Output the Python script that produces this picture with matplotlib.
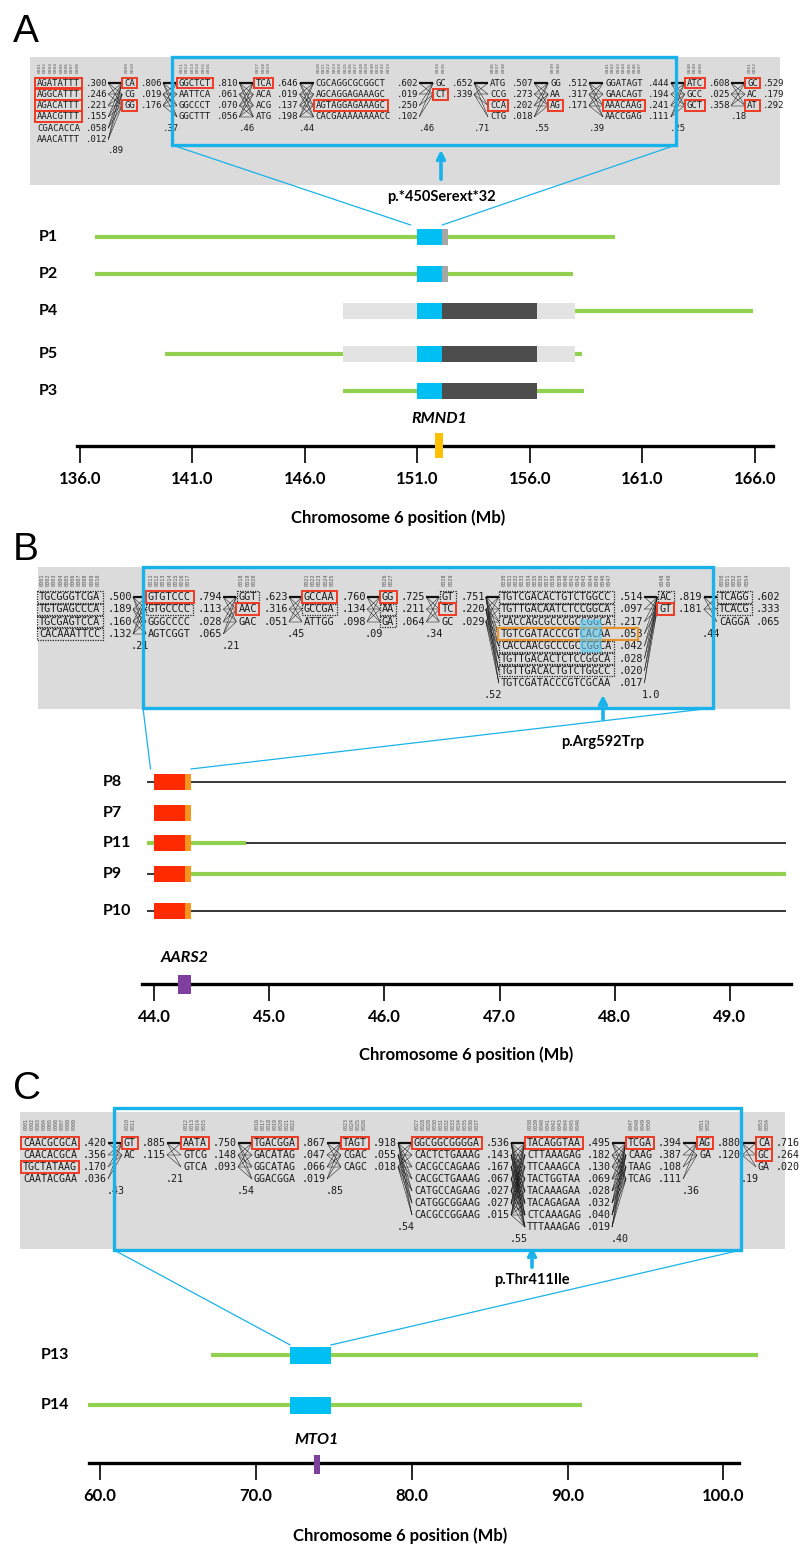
import matplotlib
matplotlib.use("Agg")
import matplotlib.pyplot as plt
from matplotlib.patches import Rectangle, ConnectionPatch

plt.rcParams["font.family"] = ["Lato", "DejaVu Sans"]

W, H = 800, 1559
CYAN = "#19B2EA"
GREEN = "#92D050"
RED_BOX = "#EE3A24"
MONO = "DejaVu Sans Mono"

# ---------------- panel A data ----------------
a_haps = [
    ["AGATATTT", "AGGCATTT", "AGACATTT", "AAACGTTT", "CGACACCA", "AAACATTT"],
    ["CA", "CG", "GG"],
    ["GGCTCT", "AATTCA", "GGCCCT", "GGCTTT"],
    ["TCA", "ACA", "ACG", "ATG"],
    ["CGCAGGCGCGGCT", "AGCAGGAGAAAGC", "AGTAGGAGAAAGC", "CACGAAAAAAAACC"],
    ["GC", "CT"],
    ["ATG", "CCG", "CCA", "CTG"],
    ["GG", "AA", "AG"],
    ["GGATAGT", "GAACAGT", "AAACAAG", "AACCGAG"],
    ["ATC", "GCC", "GCT"],
    ["GC", "AC", "AT"],
]
a_freqs = [
    [0.300, 0.246, 0.221, 0.155, 0.058, 0.012],
    [0.806, 0.019, 0.176],
    [0.810, 0.061, 0.070, 0.056],
    [0.646, 0.019, 0.137, 0.198],
    [0.602, 0.019, 0.250, 0.102],
    [0.652, 0.339],
    [0.507, 0.273, 0.202, 0.018],
    [0.512, 0.317, 0.171],
    [0.444, 0.194, 0.241, 0.111],
    [0.608, 0.025, 0.358],
    [0.529, 0.179, 0.292],
]
a_red = [[0, 1, 2, 3], [0, 2], [0], [0], [2], [1], [2], [2], [2], [0, 2], [0, 2]]
a_cross = [0.89, 0.37, 0.46, 0.44, 0.46, 0.71, 0.55, 0.39, 0.25, 0.18]

a_patients = ["P1", "P2", "P4", "P5", "P3"]
a_green = [[(136.67, 159.8)], [(136.67, 157.9)], [(158.0, 165.9)],
           [(139.8, 158.3)], [(147.7, 158.4)]]
a_shade = [None, None, (147.7, 158.0), (147.7, 158.0), None]
a_mut = (151.0, 152.1)
a_ext = [(152.1, 152.35), (152.1, 152.35), (152.1, 156.3), (152.1, 156.3), (152.1, 156.3)]
a_ext_col = ["#A6A6A6", "#A6A6A6", "#4D4D4D", "#4D4D4D", "#4D4D4D"]
a_ticks = [136.0, 141.0, 146.0, 151.0, 156.0, 161.0, 166.0]
a_gene = ("RMND1", 151.8, 152.15)

# ---------------- panel B data ----------------
b_haps = [
    ["TGCGGGTCGA", "TGTGAGCCCA", "TGCGAGTCCA", "CACAAATTCC"],
    ["GTGTCCC", "GTGCCCC", "GGGCCCC", "AGTCGGT"],
    ["GGT", "AAC", "GAC"],
    ["GCCAA", "GCCGA", "ATTGG"],
    ["GG", "AA", "GA"],
    ["GT", "TC", "GC"],
    ["TGTCGACACTGTCTGGCC", "TGTTGACAATCTCCGGCA", "CACCAGCGCCCGCCGGCA",
     "TGTCGATACCCGTCACAA", "CACCAACGCCCGCCGGCA", "TGTTGACACTCTCCGGCA",
     "TGTTGACACTGTCTGGCC", "TGTCGATACCCGTCGCAA"],
    ["AC", "GT"],
    ["TCAGG", "TCACG", "CAGGA"],
]
b_freqs = [
    [0.500, 0.189, 0.160, 0.132],
    [0.794, 0.113, 0.028, 0.065],
    [0.623, 0.316, 0.051],
    [0.760, 0.134, 0.098],
    [0.725, 0.211, 0.064],
    [0.751, 0.220, 0.029],
    [0.514, 0.097, 0.217, 0.058, 0.042, 0.028, 0.020, 0.017],
    [0.819, 0.181],
    [0.602, 0.333, 0.065],
]
b_red = [[], [0], [1], [0], [0], [1], [], [1], []]
b_dotted = [[0, 1, 2, 3], [0, 1], [0], [1], [1, 2], [0], [0, 1, 2, 4, 5, 6], [0], [0, 1]]
b_cross = [0.21, 0.21, 0.45, 0.09, 0.34, 0.52, 1.0, 0.44]

b_patients = ["P8", "P7", "P11", "P9", "P10"]
b_black = [(43.94, 49.49), None, (43.94, 49.49), (43.94, 44.0), (43.94, 49.49)]
b_green = [None, None, (43.94, 44.80), (44.32, 49.49), None]
b_mut = (44.0, 44.27)
b_ext = (44.27, 44.32)
b_ticks = [44.0, 45.0, 46.0, 47.0, 48.0, 49.0]
b_gene = ("AARS2", 44.21, 44.32)

# ---------------- panel C data ----------------
c_haps = [
    ["CAACGCGCA", "CAACACGCA", "TGCTATAAG", "CAATACGAA"],
    ["GT", "AC"],
    ["AATA", "GTCG", "GTCA"],
    ["TGACGGA", "GACATAG", "GGCATAG", "GGACGGA"],
    ["TAGT", "CGAC", "CAGC"],
    ["GGCGGCGGGGA", "CACTCTGAAAG", "CACGCCAGAAG", "CACGCTGAAAG",
     "CATGCCAGAAG", "CATGGCGGAAG", "CACGCCGGAAG"],
    ["TACAGGTAA", "CTTAAAGAG", "TTCAAAGCA", "TACTGGTAA",
     "TACAAAGAA", "TACAGAGAA", "CTCAAAGAG", "TTTAAAGAG"],
    ["TCGA", "CAAG", "TAAG", "TCAG"],
    ["AG", "GA"],
    ["CA", "GC", "GA"],
]
c_freqs = [
    [0.420, 0.356, 0.170, 0.036],
    [0.885, 0.115],
    [0.750, 0.148, 0.093],
    [0.867, 0.047, 0.066, 0.019],
    [0.918, 0.055, 0.018],
    [0.536, 0.143, 0.167, 0.067, 0.027, 0.027, 0.015],
    [0.495, 0.182, 0.130, 0.069, 0.028, 0.032, 0.040, 0.019],
    [0.394, 0.387, 0.108, 0.111],
    [0.880, 0.120],
    [0.716, 0.264, 0.020],
]
c_red = [[0, 2], [0], [0], [0], [0], [0], [0], [0], [0], [0, 1]]
c_cross = [0.43, 0.21, 0.54, 0.85, 0.54, 0.55, 0.40, 0.36, 0.19]

c_patients = ["P13", "P14"]
c_green = [(67.1, 102.2), (59.2, 90.9)]
c_mut = (72.2, 74.8)
c_ticks = [60.0, 70.0, 80.0, 90.0, 100.0]
c_gene = ("MTO1", 73.7, 74.1)


def fmt_freq(v):
    return f"{v:.3f}"[1:]


def fmt_cross(v):
    return "1.0" if v >= 1 else f"{v:.2f}"[1:]


def draw_haplo(ov, haps, freqs, red, cross, x0, y0, dy, cw, head_y, dotted=None, gap=17):
    fs = cw / 0.602 * 72 / 100
    starts, ends = [], []
    x = x0
    k = 1
    for i, (hs, fq) in enumerate(zip(haps, freqs)):
        n = max(len(h) for h in hs)
        starts.append(x)
        fx = x + (n + 1) * cw
        for c in range(n):
            ov.text(x + (c + 0.5) * cw, head_y, f"{k:04d}", rotation=90, fontsize=fs * 0.5,
                    family=MONO, ha="center", va="center", color="#555555")
            k += 1
        for r, (h, f) in enumerate(zip(hs, fq)):
            y = y0 + r * dy
            ov.text(x, y, h, family=MONO, fontsize=fs, ha="left", va="center", color="#1a1a1a")
            ov.text(fx, y, fmt_freq(f), family=MONO, fontsize=fs, ha="left", va="center",
                    color="#1a1a1a")
            if r in red[i]:
                ov.add_patch(Rectangle((x - 0.35 * cw, y - dy * 0.48), len(h) * cw + 0.7 * cw,
                                       dy * 0.96, fill=False, ec=RED_BOX, lw=1.4, zorder=5))
            elif dotted is not None and r in dotted[i]:
                ov.add_patch(Rectangle((x - 0.3 * cw, y - dy * 0.46), len(h) * cw + 0.6 * cw,
                                       dy * 0.92, fill=False, ec="#222222", lw=0.9,
                                       ls=(0, (1, 1)), zorder=4))
        ends.append(fx + 4 * cw)
        x = fx + 4 * cw + gap
    # links between adjacent blocks
    for i in range(len(haps) - 1):
        xa, xb = ends[i] + 1, starts[i + 1] - 2
        for a in range(len(haps[i])):
            for b in range(len(haps[i + 1])):
                lw = 1.6 if (a == 0 and b == 0) else 0.35
                ov.plot([xa, xb], [y0 + a * dy, y0 + b * dy], color="#111111", lw=lw,
                        solid_capstyle="butt", zorder=3)
        row = max(len(haps[i]), len(haps[i + 1]))
        ov.text((ends[i] + starts[i + 1]) / 2, y0 + row * dy, fmt_cross(cross[i]),
                family=MONO, fontsize=fs, ha="center", va="center", color="#1a1a1a")
    return starts, ends


def data_axes(fig, x0px, x1px, top_px, axis_px, xlim, ticks):
    ax = fig.add_axes([x0px / W, 1 - axis_px / H, (x1px - x0px) / W, (axis_px - top_px) / H])
    ax.set_xlim(*xlim)
    ax.set_ylim(axis_px, top_px)
    ax.patch.set_alpha(0)
    for s in ["left", "right", "top"]:
        ax.spines[s].set_visible(False)
    ax.spines["bottom"].set_linewidth(2.4)
    ax.spines["bottom"].set_bounds(*xlim)
    ax.set_yticks([])
    ax.set_xticks(ticks)
    ax.set_xticklabels([f"{t:.1f}" for t in ticks], fontweight="bold")
    ax.tick_params(axis="x", length=12, width=1.2, direction="out", pad=6, labelsize=12)
    return ax


fig = plt.figure(figsize=(W / 100, H / 100), dpi=100)
ov = fig.add_axes([0, 0, 1, 1])
ov.set_xlim(0, W)
ov.set_ylim(H, 0)
ov.axis("off")


def panel_frame(gray, box, letter, letter_y):
    gx0, gy0, gx1, gy1 = gray
    ov.add_patch(Rectangle((gx0, gy0), gx1 - gx0, gy1 - gy0, fc="#DBDBDB", ec="none", zorder=0))
    bx0, by0, bx1, by1 = box
    ov.add_patch(Rectangle((bx0, by0), bx1 - bx0, by1 - by0, fill=False, ec=CYAN, lw=2.4,
                           zorder=6))
    ov.text(13, letter_y, letter, family="Liberation Sans", fontsize=28, ha="left",
            va="baseline")


def mutation_arrow(x, tail, tip, label, label_y):
    ov.annotate("", xy=(x, tip), xytext=(x, tail),
                arrowprops=dict(arrowstyle="->", color=CYAN, lw=2.6, mutation_scale=12),
                zorder=7)
    ov.text(x, label_y, label, fontsize=10.5, fontweight="bold", ha="center", va="center")


def callouts(ax, box, lo, hi, y):
    bx0, by0, bx1, by1 = box
    for xa, xb in [(bx0, lo), (bx1, hi)]:
        con = ConnectionPatch(xyA=(xa, by1), coordsA=ov.transData, xyB=(xb, y),
                              coordsB=ax.transData, color=CYAN, lw=0.9)
        fig.add_artist(con)


def gene_mark(ax, gene, color, label_y, cy, h):
    name, g0, g1 = gene
    ax.add_patch(Rectangle((g0, cy - h / 2), g1 - g0, h, fc=color, ec="none", zorder=5,
                           clip_on=False))
    ax.text((g0 + g1) / 2, label_y, name, fontsize=11.5, fontweight="bold", style="italic",
            ha="center", va="center")


# ================= Panel A =================
a_box = (172, 57, 676, 145)
panel_frame((30, 57, 780, 185), a_box, "A", 42)
draw_haplo(ov, a_haps, a_freqs, a_red, a_cross, x0=37, y0=83, dy=11.3, cw=5.4, head_y=67)
mutation_arrow(441, 182, 147, "p.*450Serext*32", 197)

axA = data_axes(fig, 77, 773, 215, 446, (135.87, 166.8), a_ticks)
a_rows = [237, 274, 311, 354, 391]
for i, (p, y) in enumerate(zip(a_patients, a_rows)):
    ov.text(39, y, p, fontsize=11.5, fontweight="bold", ha="left", va="center")
    for g0, g1 in a_green[i]:
        axA.hlines(y, g0, g1, color=GREEN, lw=3, zorder=2, clip_on=False)
    if a_shade[i] is not None:
        axA.barh(y, a_shade[i][1] - a_shade[i][0], left=a_shade[i][0], height=16,
                 color="#E3E3E3", zorder=3, clip_on=False)
    axA.barh(y, a_ext[i][1] - a_ext[i][0], left=a_ext[i][0], height=16, color=a_ext_col[i],
             zorder=4, clip_on=False)
    axA.barh(y, a_mut[1] - a_mut[0], left=a_mut[0], height=16, color="#00BFF3", zorder=4,
             clip_on=False)
gene_mark(axA, a_gene, "#FFC000", 419, 445.5, 25)
callouts(axA, a_box, a_mut[0] - 0.3, a_mut[1], a_rows[0] - 12)
ov.text(398, 518, "Chromosome 6 position (Mb)", fontsize=12, fontweight="bold", ha="center",
        va="center")

# ================= Panel B =================
b_box = (143, 567, 713, 708)
cwb, dyb = 6.2, 12.3
panel_frame((38, 567, 790, 709), b_box, "B", 560)
b_starts, _ = draw_haplo(ov, b_haps, b_freqs, b_red, b_cross, x0=39, y0=597, dy=dyb,
                         cw=cwb, head_y=580, dotted=b_dotted, gap=16)
# highlighted haplotype and the changed bases
hx = b_starts[6]
ov.add_patch(Rectangle((hx - 0.4 * cwb, 597 + 3 * dyb - dyb * 0.5), 22.6 * cwb, dyb,
                       fill=False, ec="#E8922A", lw=1.5, zorder=5))
ov.add_patch(Rectangle((hx + 13 * cwb, 597 + 1.9 * dyb), 3 * cwb, 2.5 * dyb, fc="#5BC8EE",
                       ec="#5BC8EE", alpha=0.55, lw=2, zorder=5))
mutation_arrow(603, 722, 692, "p.Arg592Trp", 742)

axB = data_axes(fig, 142, 791, 760, 984, (43.896, 49.53), b_ticks)
b_rows = [782, 813, 843, 874, 911]
for i, (p, y) in enumerate(zip(b_patients, b_rows)):
    ov.text(103, y, p, fontsize=11.5, fontweight="bold", ha="left", va="center")
    if b_black[i] is not None:
        axB.hlines(y, *b_black[i], color="black", lw=1.1, zorder=2, clip_on=False)
    if b_green[i] is not None:
        axB.hlines(y, *b_green[i], color=GREEN, lw=3, zorder=2.5, clip_on=False)
    axB.barh(y, b_mut[1] - b_mut[0], left=b_mut[0], height=16, color="#FF2A00", zorder=4,
             clip_on=False)
    axB.barh(y, b_ext[1] - b_ext[0], left=b_ext[0], height=16, color="#F7941D", zorder=4,
             clip_on=False)
gene_mark(axB, b_gene, "#7E3F9D", 958, 984.5, 19)
callouts(axB, b_box, b_mut[0] - 0.03, b_ext[1], b_rows[0] - 13)
ov.text(466, 1055, "Chromosome 6 position (Mb)", fontsize=12, fontweight="bold",
        ha="center", va="center")

# ================= Panel C =================
c_box = (114, 1108, 741, 1250)
panel_frame((20, 1112, 785, 1249), c_box, "C", 1099)
draw_haplo(ov, c_haps, c_freqs, c_red, c_cross, x0=23, y0=1143, dy=12.0, cw=6.0,
           head_y=1124)
mutation_arrow(532, 1270, 1244, "p.Thr411Ile", 1280)

axC = data_axes(fig, 89, 739, 1335, 1463, (59.29, 101.0), c_ticks)
c_rows = [1355, 1405]
for i, (p, y) in enumerate(zip(c_patients, c_rows)):
    ov.text(41, y, p, fontsize=11.5, fontweight="bold", ha="left", va="center")
    axC.hlines(y, *c_green[i], color=GREEN, lw=3, zorder=2, clip_on=False)
    axC.barh(y, c_mut[1] - c_mut[0], left=c_mut[0], height=17, color="#00BFF3", zorder=4,
             clip_on=False)
gene_mark(axC, c_gene, "#7E3F9D", 1440, 1464, 19)
callouts(axC, c_box, c_mut[0], c_mut[1], c_rows[0] - 10)
ov.text(400, 1536, "Chromosome 6 position (Mb)", fontsize=12, fontweight="bold",
        ha="center", va="center")

fig.savefig("out.png", dpi=100)
